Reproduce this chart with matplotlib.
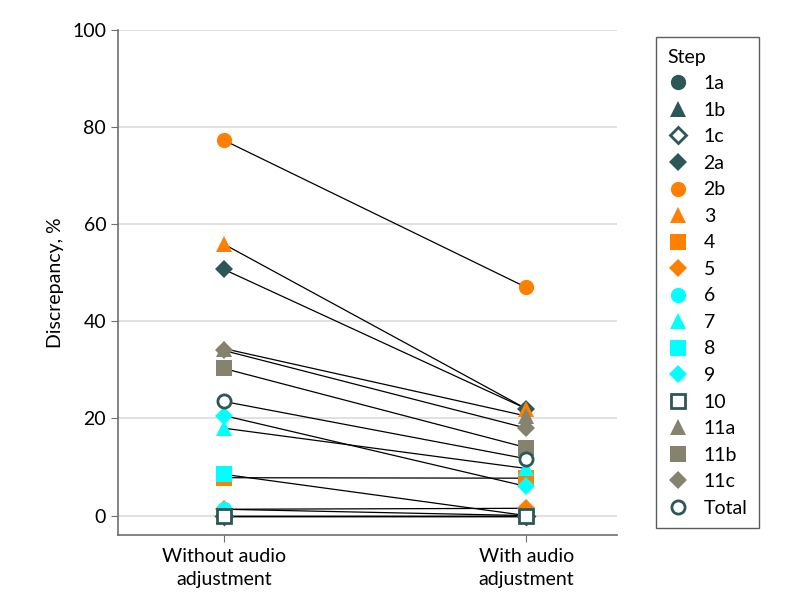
import matplotlib
matplotlib.use("Agg")
import matplotlib.pyplot as plt
from matplotlib.lines import Line2D

plt.rcParams['font.family'] = ['Lato', 'DejaVu Sans']

# data
steps = ['1a', '1b', '1c', '2a', '2b', '3', '4', '5', '6', '7', '8', '9',
         '10', '11a', '11b', '11c', 'Total']
without_audio = [0, 0, 0, 50.7, 77.3, 55.9, 7.8, 1.3, 1.3, 18.0, 8.5, 20.6,
                 0, 34.4, 30.3, 34.0, 23.5]
with_audio = [0, 0, 0, 22.0, 47.0, 22.0, 7.7, 1.5, 0, 9.7, 0, 6.0,
              0, 20.5, 14.0, 18.0, 11.7]
conditions = ['Without audio\nadjustment', 'With audio\nadjustment']

teal = '#2d5656'
orange = '#ff7f00'
cyan = '#00ffff'
gray = '#85826e'

# marker, color, filled
styles = {
    '1a': ('o', teal, True), '1b': ('^', teal, True), '1c': ('D', teal, False),
    '2a': ('D', teal, True), '2b': ('o', orange, True), '3': ('^', orange, True),
    '4': ('s', orange, True), '5': ('D', orange, True), '6': ('o', cyan, True),
    '7': ('^', cyan, True), '8': ('s', cyan, True), '9': ('D', cyan, True),
    '10': ('s', teal, False), '11a': ('^', gray, True), '11b': ('s', gray, True),
    '11c': ('D', gray, True), 'Total': ('o', teal, False),
}

fig = plt.figure(figsize=(7.94, 6.09), dpi=100)
ax = fig.add_axes([118 / 794, (609 - 535) / 609, (617 - 118) / 794, (535 - 30) / 609])

xs = [0, 1]
for i, s in enumerate(steps):
    ax.plot(xs, [without_audio[i], with_audio[i]], color='black', lw=0.9, zorder=2)

handles = []
for i, s in enumerate(steps):
    m, c, filled = styles[s]
    ms = 9.5 if m == 'D' else 11
    if filled:
        kw = dict(marker=m, color=c, markersize=ms, markeredgewidth=0, linestyle='none')
    else:
        kw = dict(marker=m, markerfacecolor='white', markeredgecolor=c,
                  markersize=ms - 1.5, markeredgewidth=2, linestyle='none')
    ax.plot(xs, [without_audio[i], with_audio[i]], zorder=3 + i * 0.01, **kw)
    handles.append(Line2D([], [], label=s, **kw))

ax.set_xlim(-0.35, 1.3)
ax.set_ylim(-4, 100)
ax.set_xticks(xs)
ax.set_xticklabels(conditions, fontsize=14, linespacing=1.45)
ax.set_yticks([0, 20, 40, 60, 80, 100])
ax.tick_params(axis='y', labelsize=14, color='#6e6e6e', length=5)
ax.tick_params(axis='x', color='#6e6e6e', length=5, pad=4)
ax.set_ylabel('Discrepancy, %', fontsize=14, labelpad=6)
ax.yaxis.grid(True, color='#dcdcdc', lw=1.2, zorder=0)
ax.set_axisbelow(True)
for side in ['top', 'right']:
    ax.spines[side].set_visible(False)
for side in ['left', 'bottom']:
    ax.spines[side].set_color('#6e6e6e')
    ax.spines[side].set_linewidth(1.2)

leg = fig.legend(handles=handles, title='Step', loc='upper left',
                 bbox_to_anchor=(656 / 794, 1 - 37 / 609), borderaxespad=0,
                 fontsize=14, title_fontsize=14, frameon=True, fancybox=False,
                 edgecolor='#333333', handletextpad=0.75, labelspacing=0.49,
                 borderpad=0.6, alignment='left', handlelength=1.1)
leg.get_frame().set_linewidth(1.0)

fig.savefig('out.png', dpi=100)
